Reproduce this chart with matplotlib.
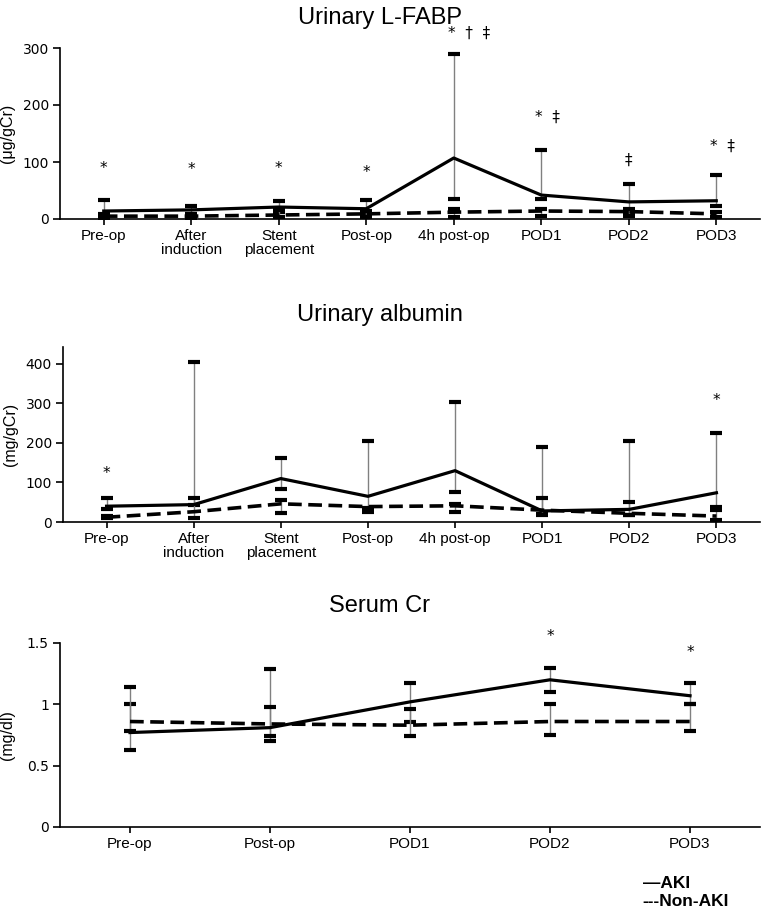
import matplotlib
matplotlib.use("Agg")
import matplotlib.pyplot as plt
import numpy as np

plt.rcParams['font.family'] = ['Liberation Sans', 'DejaVu Sans']

# ---- Urinary L-FABP ----
lfabp_cats = ['Pre-op', 'After\ninduction', 'Stent\nplacement', 'Post-op',
              '4h post-op', 'POD1', 'POD2', 'POD3']
lfabp_aki = [14, 16, 21, 18, 107, 42, 30, 32]
lfabp_aki_lo = [7, 8, 12, 9, 35, 35, 12, 23]
lfabp_aki_hi = [33, 22, 31, 34, 290, 121, 61, 77]
lfabp_non = [5, 5, 7, 9, 12, 14, 13, 9]
lfabp_non_lo = [2, 2, 3, 4, 4, 5, 5, 3]
lfabp_non_hi = [9, 9, 15, 14, 17, 18, 18, 12]
lfabp_marks = ['*', '*', '*', '*', '*  \u2020  \u2021', '*  \u2021', '\u2021', '*  \u2021']
lfabp_mark_y = [89, 86, 89, 82, 326, 179, 103, 128]

# ---- Urinary albumin ----
alb_cats = lfabp_cats
alb_aki = [40, 44, 110, 65, 130, 28, 32, 74]
alb_aki_lo = [33, 44, 84, 30, 75, 20, 18, 38]
alb_aki_hi = [60, 405, 163, 204, 305, 191, 204, 226]
alb_non = [12, 26, 46, 39, 41, 30, 22, 15]
alb_non_lo = [10, 10, 22, 25, 25, 18, 18, 6]
alb_non_hi = [15, 60, 56, 35, 45, 62, 50, 30]
alb_marks = ['*', '', '', '', '', '', '', '*']
alb_mark_y = [122, 0, 0, 0, 0, 0, 0, 307]

# ---- Serum Cr ----
cr_cats = ['Pre-op', 'Post-op', 'POD1', 'POD2', 'POD3']
cr_aki = [0.77, 0.81, 1.02, 1.20, 1.07]
cr_aki_lo = [0.63, 0.70, 0.86, 1.10, 1.00]
cr_aki_hi = [1.00, 1.29, 1.17, 1.30, 1.17]
cr_non = [0.86, 0.84, 0.83, 0.86, 0.86]
cr_non_lo = [0.78, 0.74, 0.74, 0.75, 0.78]
cr_non_hi = [1.14, 0.98, 0.96, 1.00, 1.00]
cr_marks = ['', '', '', '*', '*']
cr_mark_y = [0, 0, 0, 1.555, 1.42]

W, H = 767, 918
fig = plt.figure(figsize=(W / 100, H / 100), dpi=100)


def panel(rect, cats, aki, aki_lo, aki_hi, non, non_lo, non_hi,
          marks, mark_y, ymax, yticks, yticklabels, ylabel, title, title_y):
    ax = fig.add_axes(rect)
    x = np.arange(len(cats))
    # error bars: thin grey stem + thick black caps
    for lo, hi in ((aki_lo, aki_hi), (non_lo, non_hi)):
        ax.vlines(x, lo, hi, color='#808080', lw=1, zorder=2)
        ax.plot(x, lo, ls='none', marker='_', ms=9, mew=3, color='black', zorder=2)
        ax.plot(x, hi, ls='none', marker='_', ms=9, mew=3, color='black', zorder=2)
    ax.plot(x, aki, color='black', lw=2.3, zorder=3)
    ax.plot(x, non, color='black', lw=2.6, ls=(0, (3.8, 1.8)), zorder=3)
    for xi, m, my in zip(x, marks, mark_y):
        if m:
            if len(m) > 1:
                ax.text(xi - 0.07, my, m, ha='left', va='center', fontsize=11,
                        family=['DejaVu Sans'], clip_on=False)
            else:
                ax.text(xi, my, m, ha='center', va='center', fontsize=11,
                        family=['DejaVu Sans'], clip_on=False)
    ax.set_xlim(-0.5, len(cats) - 0.5)
    ax.set_ylim(0, ymax)
    ax.set_xticks(x)
    ax.set_xticklabels(cats, fontsize=11, linespacing=1.05)
    ax.set_yticks(yticks)
    ax.set_yticklabels(yticklabels, fontsize=10, family=['DejaVu Sans'])
    for s in ('top', 'right'):
        ax.spines[s].set_visible(False)
    for s in ('left', 'bottom'):
        ax.spines[s].set_linewidth(1.2)
    ax.tick_params(axis='both', direction='out', length=4, width=1.2, pad=3)
    ax.tick_params(axis='y', length=5)
    ax.set_ylabel(ylabel, fontsize=11.5)
    ax.yaxis.set_label_coords(-0.064, 0.5)
    fig.text(0.495, 1 - title_y / H, title, ha='center', va='center', fontsize=17)
    return ax


ax1 = panel([60 / W, 1 - 219 / H, 700 / W, 171 / H], lfabp_cats,
            lfabp_aki, lfabp_aki_lo, lfabp_aki_hi,
            lfabp_non, lfabp_non_lo, lfabp_non_hi,
            lfabp_marks, lfabp_mark_y, 300, [0, 100, 200, 300],
            ['0', '100', '200', '300'], '(\u03bcg/gCr)', 'Urinary L-FABP', 18)

ax2 = panel([63 / W, 1 - 522 / H, 697 / W, 175 / H], alb_cats,
            alb_aki, alb_aki_lo, alb_aki_hi,
            alb_non, alb_non_lo, alb_non_hi,
            alb_marks, alb_mark_y, 443, [0, 100, 200, 300, 400],
            ['0', '100', '200', '300', '400'], '(mg/gCr)', 'Urinary albumin', 315)

ax3 = panel([60 / W, 1 - 827 / H, 700 / W, 184 / H], cr_cats,
            cr_aki, cr_aki_lo, cr_aki_hi,
            cr_non, cr_non_lo, cr_non_hi,
            cr_marks, cr_mark_y, 1.5, [0, 0.5, 1, 1.5],
            ['0', '0.5', '1', '1.5'], '(mg/dl)', 'Serum Cr', 606)

fig.text(643 / W, 1 - 883 / H, '\u2014AKI', fontsize=12.5, fontweight='bold',
         va='center', ha='left')
fig.text(642 / W, 1 - 902 / H, '---Non-AKI', fontsize=12.5, fontweight='bold',
         va='center', ha='left')

fig.savefig('out.png', dpi=100)
